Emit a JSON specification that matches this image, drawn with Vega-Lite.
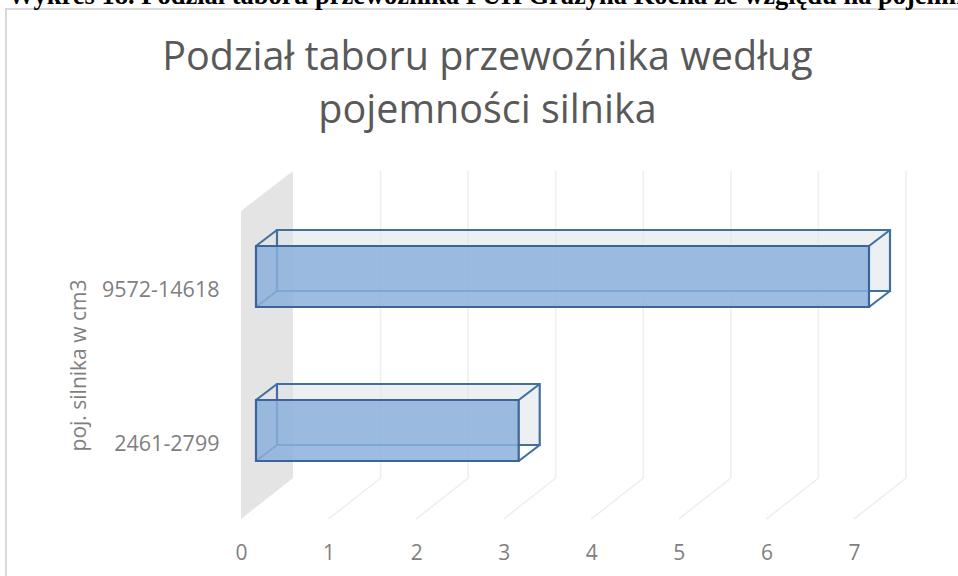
{
"$schema":"https://vega.github.io/schema/vega-lite/v6.json",
"width":613,"height":308,
"autosize":{"type":"none"},
"padding":{"left":241,"top":211,"right":104,"bottom":57},
"background":"white",
"config":{"view":{"stroke":null}},
"title":{"text":["Podział taboru przewoźnika według","pojemności silnika"],"font":"Open Sans","fontSize":39.5,"fontWeight":"normal","color":"#595959","anchor":"middle","dx":-60,"offset":-148,"lineHeight":53},
"datasets":{
"bars":[{"kategoria":"9572-14618","liczba":7},{"kategoria":"2461-2799","liczba":3}],
"ticks":[{"t":1},{"t":2},{"t":3},{"t":4},{"t":5},{"t":6},{"t":7}],
"wall":[{"t":0,"dol":0,"gora":1},{"t":0.594,"dol":0.133,"gora":1.13}],
"note":[{"tekst":"Wykres 18. Podział taboru przewoźnika PUH Grażyna Kocha ze względu na pojemność silnika"}]
},
"resolve":{"scale":{"y":"independent"}},
"layer":[
{"data":{"name":"note"},"mark":{"type":"rect","fill":"transparent","stroke":"#d9d9d9","strokeWidth":2},
 "encoding":{"x":{"value":-235},"x2":{"value":760},"y":{"value":-202},"y2":{"value":400}}},
{"data":{"name":"note"},"mark":{"type":"text","font":"Liberation Serif","fontWeight":"bold","fontSize":26.5,"color":"black","align":"left","baseline":"alphabetic"},
 "encoding":{"x":{"value":-233},"y":{"value":-207},"text":{"field":"tekst"}}},
{"data":{"name":"wall"},"mark":{"type":"area","fill":"#e4e4e4","orient":"vertical"},
 "encoding":{"x":{"field":"t","type":"quantitative","scale":{"domain":[0,7],"nice":false,"zero":false},
   "axis":{"grid":false,"domain":false,"ticks":false,"values":[0,1,2,3,4,5,6,7],"labelFont":"Open Sans","labelFontSize":21,"labelColor":"#7f7f7f","labelPadding":23,"labelFlush":false,"title":null,"format":"d"}},
  "y":{"field":"dol","type":"quantitative","scale":{"domain":[0,1],"nice":false,"zero":false},"axis":null},
  "y2":{"field":"gora"}}},
{"data":{"name":"ticks"},"mark":{"type":"rule","stroke":"#efefef","strokeWidth":1.6},
 "encoding":{"x":{"field":"t","type":"quantitative"},"xOffset":{"value":52},
  "y":{"datum":0.133,"type":"quantitative","scale":{"domain":[0,1],"nice":false,"zero":false},"axis":null},"y2":{"datum":1.13}}},
{"data":{"name":"ticks"},"mark":{"type":"rule","stroke":"#efefef","strokeWidth":1.6,"x2Offset":52},
 "encoding":{"x":{"field":"t","type":"quantitative"},"x2":{"field":"t"},
  "y":{"datum":0,"type":"quantitative","scale":{"domain":[0,1],"nice":false,"zero":false},"axis":null},"y2":{"datum":0.133}}},
{"data":{"name":"bars"},"mark":{"type":"bar","size":61,"fill":"#dfe3ea","fillOpacity":0.55,"stroke":"#41709f","strokeWidth":2.2,"xOffset":36,"x2Offset":36,"yOffset":-27.5,"y2Offset":-27.5,"orient":"horizontal"},
 "encoding":{"x":{"field":"liczba","type":"quantitative"},"x2":{"datum":0},
  "y":{"field":"kategoria","type":"nominal","sort":null,"scale":{"paddingInner":0,"paddingOuter":0},"axis":null}}},
{"data":{"name":"bars"},"mark":{"type":"rule","stroke":"#41709f","strokeWidth":2.2,"xOffset":15,"x2Offset":36,"yOffset":-42,"y2Offset":-58},
 "encoding":{"x":{"field":"liczba","type":"quantitative"},"x2":{"field":"liczba"},
  "y":{"field":"kategoria","type":"nominal","sort":null,"axis":null},"y2":{"field":"kategoria"}}},
{"data":{"name":"bars"},"mark":{"type":"rule","stroke":"#41709f","strokeWidth":2.2,"xOffset":15,"x2Offset":36,"yOffset":19,"y2Offset":3},
 "encoding":{"x":{"field":"liczba","type":"quantitative"},"x2":{"field":"liczba"},
  "y":{"field":"kategoria","type":"nominal","sort":null,"axis":null},"y2":{"field":"kategoria"}}},
{"data":{"name":"bars"},"mark":{"type":"rule","stroke":"#41709f","strokeWidth":2.2,"xOffset":15,"x2Offset":36,"yOffset":-42,"y2Offset":-58},
 "encoding":{"x":{"datum":0,"type":"quantitative"},"x2":{"datum":0},
  "y":{"field":"kategoria","type":"nominal","sort":null,"axis":null},"y2":{"field":"kategoria"}}},
{"data":{"name":"bars"},"mark":{"type":"rule","stroke":"#41709f","strokeWidth":2.2,"xOffset":15,"x2Offset":36,"yOffset":19,"y2Offset":3},
 "encoding":{"x":{"datum":0,"type":"quantitative"},"x2":{"datum":0},
  "y":{"field":"kategoria","type":"nominal","sort":null,"axis":null},"y2":{"field":"kategoria"}}},
{"data":{"name":"bars"},"mark":{"type":"bar","size":61,"fill":"#8bb0dc","fillOpacity":0.85,"stroke":"#3b6499","strokeWidth":2.2,"xOffset":15,"x2Offset":15,"yOffset":-11.5,"y2Offset":-11.5,"orient":"horizontal"},
 "encoding":{"x":{"field":"liczba","type":"quantitative"},"x2":{"datum":0},
  "y":{"field":"kategoria","type":"nominal","sort":null,"scale":{"paddingInner":0,"paddingOuter":0},
   "axis":{"domain":false,"ticks":false,"grid":false,"labelFont":"Open Sans","labelFontSize":21.5,"labelColor":"#7f7f7f","labelPadding":22,"labelBaseline":"middle","labelOffset":3,"title":"poj. silnika w cm3","titleFont":"Open Sans","titleFontSize":21,"titleFontWeight":"normal","titleColor":"#7f7f7f","titlePadding":12}}}}
]
}
